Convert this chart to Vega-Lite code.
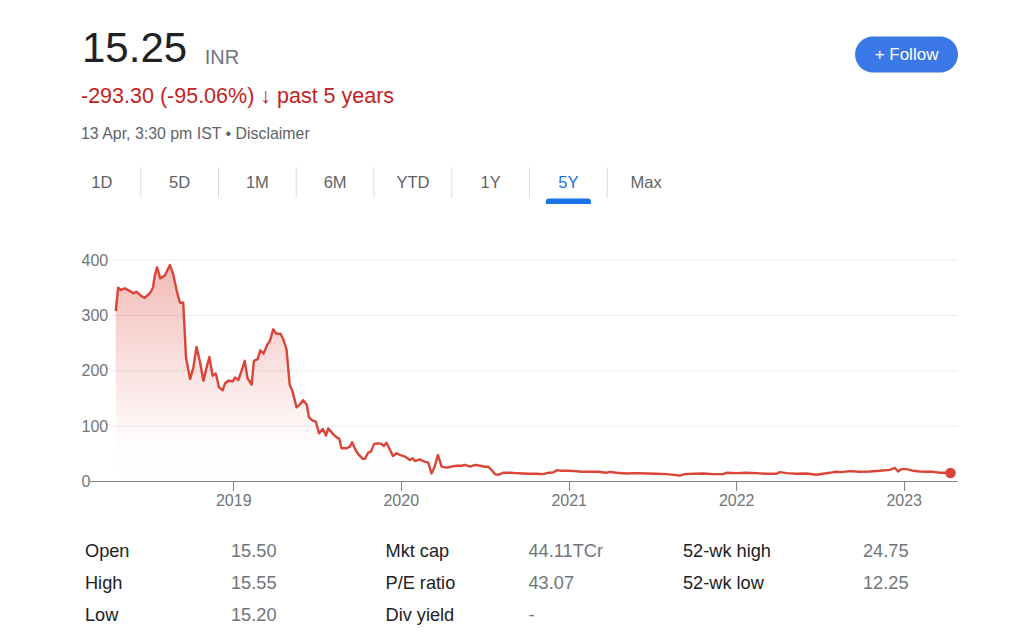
{
  "$schema": "https://vega.github.io/schema/vega-lite/v6.json",
  "background": "white",
  "padding": {"left": 63, "top": 27.5, "right": 0, "bottom": 0},
  "bounds": "flush",
  "spacing": 0,
  "resolve": {"scale": {"color": "independent", "x": "independent", "y": "independent"}},
  "config": {
    "font": "Liberation Sans, Arial, Helvetica, sans-serif",
    "view": {"stroke": null},
    "title": {"fontWeight": "normal", "anchor": "start", "frame": "group"}
  },
  "datasets": {
    "price": [
      {"date": "2018-04-20", "price": 308}, {"date": "2018-04-25", "price": 350}, {"date": "2018-05-01", "price": 346},
      {"date": "2018-05-10", "price": 349}, {"date": "2018-05-21", "price": 344}, {"date": "2018-05-28", "price": 340},
      {"date": "2018-06-04", "price": 343}, {"date": "2018-06-15", "price": 335}, {"date": "2018-06-22", "price": 332},
      {"date": "2018-07-03", "price": 340}, {"date": "2018-07-10", "price": 350}, {"date": "2018-07-14", "price": 372},
      {"date": "2018-07-19", "price": 387}, {"date": "2018-07-26", "price": 367}, {"date": "2018-08-05", "price": 372},
      {"date": "2018-08-16", "price": 391}, {"date": "2018-08-23", "price": 375}, {"date": "2018-08-31", "price": 344},
      {"date": "2018-09-07", "price": 323}, {"date": "2018-09-14", "price": 323}, {"date": "2018-09-20", "price": 224},
      {"date": "2018-09-29", "price": 185}, {"date": "2018-10-06", "price": 206}, {"date": "2018-10-13", "price": 243},
      {"date": "2018-10-20", "price": 218}, {"date": "2018-10-28", "price": 182}, {"date": "2018-11-04", "price": 206},
      {"date": "2018-11-10", "price": 225}, {"date": "2018-11-17", "price": 191}, {"date": "2018-11-24", "price": 195},
      {"date": "2018-12-01", "price": 170}, {"date": "2018-12-09", "price": 165}, {"date": "2018-12-14", "price": 177},
      {"date": "2018-12-21", "price": 182}, {"date": "2018-12-31", "price": 181}, {"date": "2019-01-05", "price": 188},
      {"date": "2019-01-12", "price": 183}, {"date": "2019-01-19", "price": 200}, {"date": "2019-01-26", "price": 218},
      {"date": "2019-02-01", "price": 187}, {"date": "2019-02-10", "price": 175}, {"date": "2019-02-15", "price": 218},
      {"date": "2019-02-23", "price": 221}, {"date": "2019-03-01", "price": 237}, {"date": "2019-03-08", "price": 231},
      {"date": "2019-03-16", "price": 247}, {"date": "2019-03-22", "price": 254}, {"date": "2019-03-29", "price": 275},
      {"date": "2019-04-05", "price": 267}, {"date": "2019-04-14", "price": 267}, {"date": "2019-04-20", "price": 257},
      {"date": "2019-04-27", "price": 239}, {"date": "2019-05-04", "price": 175}, {"date": "2019-05-10", "price": 163},
      {"date": "2019-05-19", "price": 134}, {"date": "2019-05-26", "price": 139}, {"date": "2019-06-02", "price": 147},
      {"date": "2019-06-10", "price": 139}, {"date": "2019-06-15", "price": 116}, {"date": "2019-06-23", "price": 110},
      {"date": "2019-06-30", "price": 108}, {"date": "2019-07-07", "price": 87}, {"date": "2019-07-15", "price": 95},
      {"date": "2019-07-22", "price": 83}, {"date": "2019-07-27", "price": 96}, {"date": "2019-08-05", "price": 87},
      {"date": "2019-08-14", "price": 80}, {"date": "2019-08-20", "price": 77}, {"date": "2019-08-25", "price": 60},
      {"date": "2019-09-05", "price": 60}, {"date": "2019-09-12", "price": 63}, {"date": "2019-09-17", "price": 71},
      {"date": "2019-09-25", "price": 56}, {"date": "2019-10-02", "price": 48}, {"date": "2019-10-10", "price": 41},
      {"date": "2019-10-15", "price": 41}, {"date": "2019-10-22", "price": 52}, {"date": "2019-10-28", "price": 54},
      {"date": "2019-11-04", "price": 68}, {"date": "2019-11-13", "price": 69}, {"date": "2019-11-20", "price": 68},
      {"date": "2019-11-25", "price": 64}, {"date": "2019-12-01", "price": 70}, {"date": "2019-12-08", "price": 58},
      {"date": "2019-12-15", "price": 46}, {"date": "2019-12-23", "price": 51}, {"date": "2019-12-30", "price": 48},
      {"date": "2020-01-10", "price": 45}, {"date": "2020-01-21", "price": 39}, {"date": "2020-01-27", "price": 42},
      {"date": "2020-02-01", "price": 37}, {"date": "2020-02-11", "price": 40}, {"date": "2020-02-22", "price": 36},
      {"date": "2020-03-01", "price": 34}, {"date": "2020-03-08", "price": 14.5}, {"date": "2020-03-15", "price": 27},
      {"date": "2020-03-22", "price": 48}, {"date": "2020-03-30", "price": 27}, {"date": "2020-04-10", "price": 25},
      {"date": "2020-04-21", "price": 27}, {"date": "2020-05-02", "price": 28.4}, {"date": "2020-05-13", "price": 28.4},
      {"date": "2020-05-20", "price": 30}, {"date": "2020-05-31", "price": 27}, {"date": "2020-06-11", "price": 30},
      {"date": "2020-06-22", "price": 28.4}, {"date": "2020-07-03", "price": 26.6}, {"date": "2020-07-10", "price": 26.6},
      {"date": "2020-07-17", "price": 20.6}, {"date": "2020-07-24", "price": 13.4}, {"date": "2020-07-31", "price": 12.1},
      {"date": "2020-08-11", "price": 15.7}, {"date": "2020-08-26", "price": 15.7}, {"date": "2020-09-09", "price": 15.2},
      {"date": "2020-09-24", "price": 14.5}, {"date": "2020-10-08", "price": 13.9}, {"date": "2020-10-23", "price": 13.9},
      {"date": "2020-11-06", "price": 13.4}, {"date": "2020-11-17", "price": 15.7}, {"date": "2020-11-28", "price": 16.3},
      {"date": "2020-12-07", "price": 20.6}, {"date": "2020-12-16", "price": 19.3}, {"date": "2020-12-31", "price": 19.3},
      {"date": "2021-01-14", "price": 18.8}, {"date": "2021-01-29", "price": 17.5}, {"date": "2021-02-16", "price": 17.5},
      {"date": "2021-03-06", "price": 17.5}, {"date": "2021-03-24", "price": 15.7}, {"date": "2021-03-31", "price": 17.5},
      {"date": "2021-04-15", "price": 15.7}, {"date": "2021-05-07", "price": 14.5}, {"date": "2021-05-29", "price": 15.2},
      {"date": "2021-06-19", "price": 14.5}, {"date": "2021-07-11", "price": 13.9}, {"date": "2021-08-02", "price": 13.4},
      {"date": "2021-08-24", "price": 11.6}, {"date": "2021-08-31", "price": 10.5}, {"date": "2021-09-11", "price": 13.4},
      {"date": "2021-09-29", "price": 13.9}, {"date": "2021-10-21", "price": 14.5}, {"date": "2021-11-12", "price": 13.4},
      {"date": "2021-12-03", "price": 13.4}, {"date": "2021-12-11", "price": 15.7}, {"date": "2022-01-02", "price": 15.2},
      {"date": "2022-01-23", "price": 15.7}, {"date": "2022-02-14", "price": 15.2}, {"date": "2022-03-08", "price": 13.9},
      {"date": "2022-03-30", "price": 13.9}, {"date": "2022-04-06", "price": 17}, {"date": "2022-04-21", "price": 15.2},
      {"date": "2022-05-12", "price": 13.9}, {"date": "2022-06-03", "price": 14.5}, {"date": "2022-06-25", "price": 12.3},
      {"date": "2022-07-09", "price": 13.9}, {"date": "2022-07-24", "price": 15.7}, {"date": "2022-08-04", "price": 17.5},
      {"date": "2022-08-18", "price": 17}, {"date": "2022-09-06", "price": 18.8}, {"date": "2022-09-27", "price": 17.5},
      {"date": "2022-10-19", "price": 18.1}, {"date": "2022-11-10", "price": 19.3}, {"date": "2022-12-02", "price": 21.1},
      {"date": "2022-12-13", "price": 24.5}, {"date": "2022-12-20", "price": 18.1}, {"date": "2022-12-27", "price": 22.4},
      {"date": "2023-01-07", "price": 22.4}, {"date": "2023-01-22", "price": 19.3}, {"date": "2023-02-05", "price": 18.1},
      {"date": "2023-02-20", "price": 17.5}, {"date": "2023-03-06", "price": 17.5}, {"date": "2023-03-21", "price": 15.7},
      {"date": "2023-04-04", "price": 15.7}, {"date": "2023-04-13", "price": 15.25}
    ],
    "tabs": [
      {"tab": "1D", "sel": "no"}, {"tab": "5D", "sel": "no"}, {"tab": "1M", "sel": "no"}, {"tab": "6M", "sel": "no"},
      {"tab": "YTD", "sel": "no"}, {"tab": "1Y", "sel": "no"}, {"tab": "5Y", "sel": "yes"}, {"tab": "Max", "sel": "no"}
    ],
    "stats": [
      {"g": 1, "row": 1, "kind": "label", "text": "Open"}, {"g": 1, "row": 1, "kind": "value", "text": "15.50"},
      {"g": 1, "row": 2, "kind": "label", "text": "High"}, {"g": 1, "row": 2, "kind": "value", "text": "15.55"},
      {"g": 1, "row": 3, "kind": "label", "text": "Low"}, {"g": 1, "row": 3, "kind": "value", "text": "15.20"},
      {"g": 2, "row": 1, "kind": "label", "text": "Mkt cap"}, {"g": 2, "row": 1, "kind": "value", "text": "44.11TCr"},
      {"g": 2, "row": 2, "kind": "label", "text": "P/E ratio"}, {"g": 2, "row": 2, "kind": "value", "text": "43.07"},
      {"g": 2, "row": 3, "kind": "label", "text": "Div yield"}, {"g": 2, "row": 3, "kind": "value", "text": "-"},
      {"g": 3, "row": 1, "kind": "label", "text": "52-wk high"}, {"g": 3, "row": 1, "kind": "value", "text": "24.75"},
      {"g": 3, "row": 2, "kind": "label", "text": "52-wk low"}, {"g": 3, "row": 2, "kind": "value", "text": "12.25"}
    ]
  },
  "vconcat": [
    {
      "width": 895, "height": 36,
      "title": {"text": "15.25", "fontSize": 42, "color": "#202124", "orient": "top", "offset": 0, "baseline": "alphabetic", "dx": 19, "dy": 67.5},
      "data": {"values": [{"label": "+  Follow"}]},
      "layer": [
        {
          "mark": {"type": "rect", "fill": "#3b78e7", "cornerRadius": 18},
          "encoding": {
            "x": {"datum": "follow", "type": "nominal",
                  "scale": {"type": "band", "domain": ["info", "follow"], "paddingInner": 0.87, "paddingOuter": 0},
                  "axis": {"orient": "top", "labels": false, "ticks": false, "domain": false, "grid": false,
                           "title": "INR", "titleX": 141.3, "titleY": 26.5, "titleAlign": "left", "titleAnchor": "start", "titleBaseline": "alphabetic",
                           "titleFontSize": 20, "titleFontWeight": "normal", "titleColor": "#70757a", "titleLimit": 200}}
          }
        },
        {
          "mark": {"type": "text", "color": "white", "fontSize": 17},
          "encoding": {
            "x": {"datum": "follow", "type": "nominal",
                  "scale": {"type": "band", "domain": ["info", "follow"], "paddingInner": 0.87, "paddingOuter": 0},
                  "axis": {"orient": "top", "labels": false, "ticks": false, "domain": false, "grid": false,
                           "title": "INR", "titleX": 141.3, "titleY": 26.5, "titleAlign": "left", "titleAnchor": "start", "titleBaseline": "alphabetic",
                           "titleFontSize": 20, "titleFontWeight": "normal", "titleColor": "#70757a", "titleLimit": 200}},
            "text": {"field": "label"}
          }
        }
      ]
    },
    {
      "width": 1, "height": 95,
      "data": {"values": [{}]},
      "mark": {"type": "text"},
      "encoding": {"text": {"value": ""}}
    },
    {
      "width": 622, "height": 30.3,
      "title": {
        "text": "-293.30 (-95.06%) ↓ past 5 years",
        "subtitle": "13 Apr, 3:30 pm IST • Disclaimer",
        "fontSize": 21.5, "color": "#c5221f",
        "subtitleFontSize": 15.9, "subtitleColor": "#5f6368",
        "orient": "top", "dx": 18, "offset": 25.5, "subtitlePadding": 18.5
      },
      "data": {"name": "tabs"},
      "layer": [
        {
          "transform": [{"filter": "datum.tab !== '1D'"}],
          "mark": {"type": "rule", "color": "#dadce0", "strokeWidth": 1},
          "encoding": {
            "x": {"field": "tab", "type": "nominal", "bandPosition": 0,
                  "scale": {"domain": ["1D", "5D", "1M", "6M", "YTD", "1Y", "5Y", "Max"], "paddingInner": 0, "paddingOuter": 0},
                  "axis": null}
          }
        },
        {
          "mark": {"type": "text", "fontSize": 16.5},
          "encoding": {
            "x": {"field": "tab", "type": "nominal",
                  "scale": {"domain": ["1D", "5D", "1M", "6M", "YTD", "1Y", "5Y", "Max"], "paddingInner": 0, "paddingOuter": 0},
                  "axis": null},
            "text": {"field": "tab"},
            "color": {"field": "sel", "type": "nominal", "scale": {"domain": ["no", "yes"], "range": ["#5f6368", "#1a73e8"]}, "legend": null}
          }
        }
      ]
    },
    {
      "width": 622, "height": 5.4,
      "data": {"name": "tabs"},
      "transform": [{"filter": "datum.sel === 'yes'"}],
      "mark": {"type": "bar", "width": 45, "color": "#1a73e8", "cornerRadiusTopLeft": 3, "cornerRadiusTopRight": 3},
      "encoding": {
        "x": {"field": "tab", "type": "nominal",
              "scale": {"domain": ["1D", "5D", "1M", "6M", "YTD", "1Y", "5Y", "Max"], "paddingInner": 0, "paddingOuter": 0},
              "axis": null}
      }
    },
    {
      "width": 894.7, "height": 277,
      "layer": [
        {
          "data": {"values": [{"v": 100}, {"v": 200}, {"v": 300}, {"v": 400}]},
          "mark": {"type": "rule", "color": "#ececec", "strokeWidth": 1},
          "encoding": {
            "y": {"field": "v", "type": "quantitative",
                  "scale": {"domain": [0, 500.45], "nice": false, "zero": true},
                  "axis": {"title": null, "domain": false, "grid": false, "ticks": false, "values": [0, 100, 200, 300, 400],
                           "labelColor": "#70757a", "labelFontSize": 16, "labelPadding": -18, "labelAlign": "left", "labelBaseline": "middle"}},
            "x": {"datum": {"year": 2018, "month": 4, "date": 12, "utc": true}, "type": "temporal",
                  "scale": {"type": "utc", "domain": [{"year": 2017, "month": 12, "date": 26, "utc": true}, {"year": 2023, "month": 4, "date": 28, "hours": 16, "utc": true}]},
                  "axis": {"title": null, "domain": false, "grid": false, "ticks": true, "tickSize": 9, "tickColor": "#80868b", "tickWidth": 1,
                           "values": [{"year": 2019, "month": 1, "date": 1, "utc": true}, {"year": 2020, "month": 1, "date": 1, "utc": true}, {"year": 2021, "month": 1, "date": 1, "utc": true}, {"year": 2022, "month": 1, "date": 1, "utc": true}, {"year": 2023, "month": 1, "date": 1, "utc": true}],
                           "format": "%Y", "labelColor": "#70757a", "labelFontSize": 16, "labelPadding": 2, "labelFlush": false}},
            "x2": {"datum": {"year": 2023, "month": 4, "date": 28, "hours": 16, "utc": true}}
          }
        },
        {
          "data": {"values": [{"v": 0}]},
          "mark": {"type": "rule", "color": "#80868b", "strokeWidth": 1.2},
          "encoding": {
            "y": {"field": "v", "type": "quantitative",
                  "scale": {"domain": [0, 500.45], "nice": false, "zero": true},
                  "axis": {"title": null, "domain": false, "grid": false, "ticks": false, "values": [0, 100, 200, 300, 400],
                           "labelColor": "#70757a", "labelFontSize": 16, "labelPadding": -18, "labelAlign": "left", "labelBaseline": "middle"}},
            "x": {"datum": {"year": 2018, "month": 2, "date": 23, "utc": true}, "type": "temporal",
                  "scale": {"type": "utc", "domain": [{"year": 2017, "month": 12, "date": 26, "utc": true}, {"year": 2023, "month": 4, "date": 28, "hours": 16, "utc": true}]},
                  "axis": {"title": null, "domain": false, "grid": false, "ticks": true, "tickSize": 9, "tickColor": "#80868b", "tickWidth": 1,
                           "values": [{"year": 2019, "month": 1, "date": 1, "utc": true}, {"year": 2020, "month": 1, "date": 1, "utc": true}, {"year": 2021, "month": 1, "date": 1, "utc": true}, {"year": 2022, "month": 1, "date": 1, "utc": true}, {"year": 2023, "month": 1, "date": 1, "utc": true}],
                           "format": "%Y", "labelColor": "#70757a", "labelFontSize": 16, "labelPadding": 2, "labelFlush": false}},
            "x2": {"datum": {"year": 2023, "month": 4, "date": 28, "hours": 16, "utc": true}}
          }
        },
        {
          "data": {"name": "price"},
          "mark": {
            "type": "area",
            "color": {"gradient": "linear", "x1": 0, "y1": 0, "x2": 0, "y2": 1,
                      "stops": [{"offset": 0, "color": "rgba(219,68,55,0.36)"}, {"offset": 0.8, "color": "rgba(219,68,55,0.02)"}, {"offset": 1, "color": "rgba(219,68,55,0)"}]}
          },
          "encoding": {
            "x": {"field": "date", "type": "temporal",
                  "scale": {"type": "utc", "domain": [{"year": 2017, "month": 12, "date": 26, "utc": true}, {"year": 2023, "month": 4, "date": 28, "hours": 16, "utc": true}]},
                  "axis": {"title": null, "domain": false, "grid": false, "ticks": true, "tickSize": 9, "tickColor": "#80868b", "tickWidth": 1,
                           "values": [{"year": 2019, "month": 1, "date": 1, "utc": true}, {"year": 2020, "month": 1, "date": 1, "utc": true}, {"year": 2021, "month": 1, "date": 1, "utc": true}, {"year": 2022, "month": 1, "date": 1, "utc": true}, {"year": 2023, "month": 1, "date": 1, "utc": true}],
                           "format": "%Y", "labelColor": "#70757a", "labelFontSize": 16, "labelPadding": 2, "labelFlush": false}},
            "y": {"field": "price", "type": "quantitative",
                  "scale": {"domain": [0, 500.45], "nice": false, "zero": true},
                  "axis": {"title": null, "domain": false, "grid": false, "ticks": false, "values": [0, 100, 200, 300, 400],
                           "labelColor": "#70757a", "labelFontSize": 16, "labelPadding": -18, "labelAlign": "left", "labelBaseline": "middle"}}
          }
        },
        {
          "data": {"name": "price"},
          "mark": {"type": "line", "color": "#db4437", "strokeWidth": 2.4, "strokeJoin": "round"},
          "encoding": {
            "x": {"field": "date", "type": "temporal"},
            "y": {"field": "price", "type": "quantitative"}
          }
        },
        {
          "data": {"name": "price"},
          "transform": [{"filter": "datum.price === 15.25"}],
          "mark": {"type": "point", "filled": true, "size": 110, "color": "#db4437", "opacity": 1},
          "encoding": {
            "x": {"field": "date", "type": "temporal"},
            "y": {"field": "price", "type": "quantitative"}
          }
        }
      ]
    },
    {
      "bounds": "flush",
      "spacing": 154.5,
      "resolve": {"scale": {"x": "independent", "y": "independent"}},
      "hconcat": [
        {
          "width": 168, "height": 153.6,
          "data": {"name": "stats"},
          "transform": [{"filter": "datum.g === 1"}],
          "mark": {"type": "text", "align": "left", "baseline": "middle", "fontSize": 18.2},
          "encoding": {
            "x": {"field": "kind", "type": "nominal", "scale": {"type": "point", "domain": ["label", "value"], "padding": 0.0753, "align": 1}, "axis": null},
            "y": {"field": "row", "type": "ordinal", "scale": {"type": "band", "domain": [1, 2, 3], "paddingInner": 0, "paddingOuter": 0.9, "align": 0.943}, "axis": null},
            "text": {"field": "text"},
            "color": {"field": "kind", "type": "nominal", "scale": {"domain": ["label", "value"], "range": ["#202124", "#70757a"]}, "legend": null}
          }
        },
        {
          "width": 143, "height": 153.6,
          "data": {"name": "stats"},
          "transform": [{"filter": "datum.g === 2"}],
          "mark": {"type": "text", "align": "left", "baseline": "middle", "fontSize": 18.2},
          "encoding": {
            "x": {"field": "kind", "type": "nominal", "scale": {"type": "point", "domain": ["label", "value"], "padding": 0}, "axis": null},
            "y": {"field": "row", "type": "ordinal", "scale": {"type": "band", "domain": [1, 2, 3], "paddingInner": 0, "paddingOuter": 0.9, "align": 0.943}, "axis": null},
            "text": {"field": "text"},
            "color": {"field": "kind", "type": "nominal", "scale": {"domain": ["label", "value"], "range": ["#202124", "#70757a"]}, "legend": null}
          }
        },
        {
          "width": 180, "height": 153.6,
          "data": {"name": "stats"},
          "transform": [{"filter": "datum.g === 3"}],
          "mark": {"type": "text", "align": "left", "baseline": "middle", "fontSize": 18.2},
          "encoding": {
            "x": {"field": "kind", "type": "nominal", "scale": {"type": "point", "domain": ["label", "value"], "padding": 0}, "axis": null},
            "y": {"field": "row", "type": "ordinal", "scale": {"type": "band", "domain": [1, 2, 3], "paddingInner": 0, "paddingOuter": 0.9, "align": 0.943}, "axis": null},
            "text": {"field": "text"},
            "color": {"field": "kind", "type": "nominal", "scale": {"domain": ["label", "value"], "range": ["#202124", "#70757a"]}, "legend": null}
          }
        }
      ]
    }
  ]
}
